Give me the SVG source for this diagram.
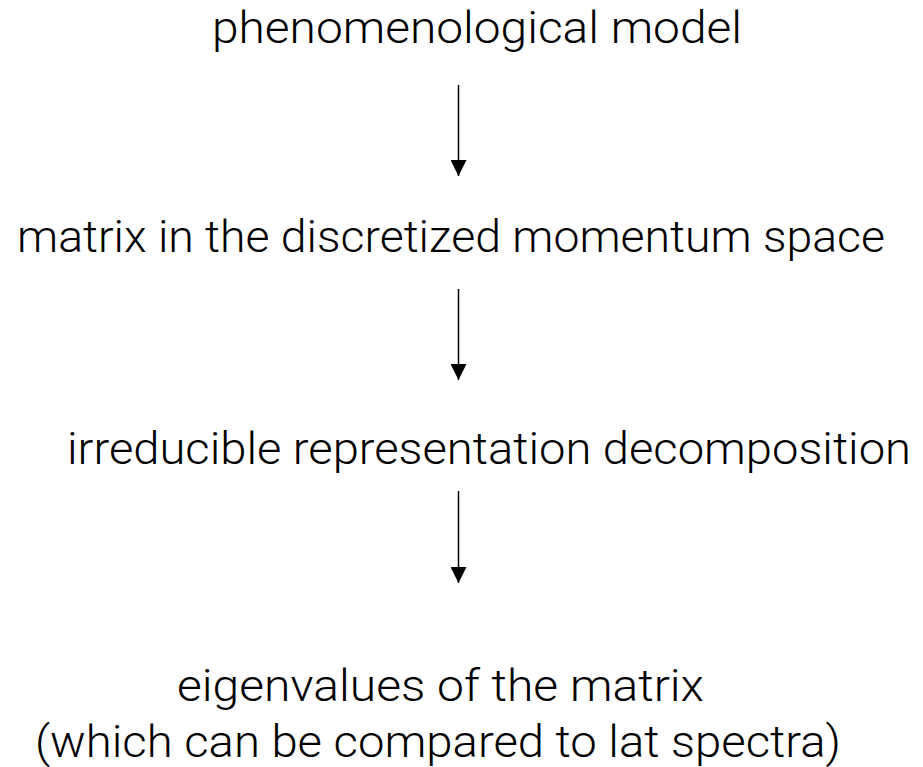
<svg xmlns="http://www.w3.org/2000/svg" width="923" height="767" viewBox="0 0 923 767">
  <style>
    .label { font-family: "Roboto", "Noto Sans", "Open Sans", sans-serif; font-weight: 300; font-size: 44px; fill: #000; }
    .edge { stroke: #000; stroke-width: 1.5; fill: none; }
  </style>
  <defs>
    <marker id="arrow" markerWidth="16" markerHeight="16" refX="16" refY="8" orient="auto" markerUnits="userSpaceOnUse" viewBox="0 0 16 16">
      <path d="M0,0 L16,8 L0,16 Z" fill="#000"/>
    </marker>
  </defs>
  <rect width="923" height="767" fill="#fff"/>

  <g id="node-model">
    <text class="label" x="212" y="43" textLength="530" lengthAdjust="spacingAndGlyphs">phenomenological model</text>
  </g>
  <g id="node-matrix">
    <text class="label" x="17" y="252" textLength="868" lengthAdjust="spacingAndGlyphs">matrix in the discretized momentum space</text>
  </g>
  <g id="node-irrep">
    <text class="label" x="67" y="464" textLength="844" lengthAdjust="spacingAndGlyphs">irreducible representation decomposition</text>
  </g>
  <g id="node-eigen">
    <text class="label" x="177" y="701" textLength="527" lengthAdjust="spacingAndGlyphs">eigenvalues of the matrix</text>
    <text class="label" x="35" y="757" textLength="806" lengthAdjust="spacingAndGlyphs">(which can be compared to lat spectra)</text>
  </g>

  <g id="connectors">
    <line class="edge" x1="458.5" y1="85" x2="458.5" y2="176" marker-end="url(#arrow)"/>
    <line class="edge" x1="458.5" y1="289" x2="458.5" y2="380" marker-end="url(#arrow)"/>
    <line class="edge" x1="458.5" y1="491" x2="458.5" y2="583" marker-end="url(#arrow)"/>
  </g>
</svg>
